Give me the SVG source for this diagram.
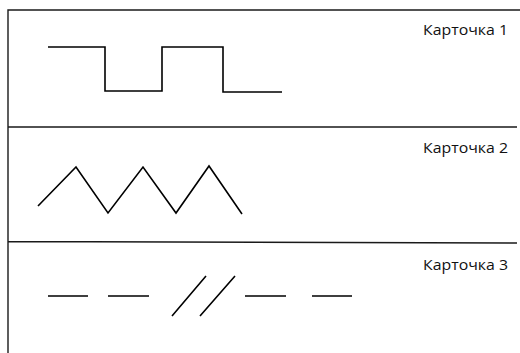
<svg xmlns="http://www.w3.org/2000/svg" width="520" height="353" viewBox="0 0 520 353">
<style>
.ln{fill:none;stroke:#000;stroke-width:1.6;stroke-linecap:butt;stroke-linejoin:miter}
.fr{fill:none;stroke:#1a1a1a;stroke-width:1.4}
.lbl{font-family:"Open Sans","Liberation Sans",sans-serif;font-size:14.5px;fill:#111}
</style>
<rect width="520" height="353" fill="#fff"/>
<g id="frame">
<path class="fr" d="M8,353 V10 H520 M8,127 H517 M8,241.5 L517,243"/>
</g>
<g id="card1">
<path class="ln" d="M48,47 H105 V91 H162 V47 H223 V92 H282"/>
<text class="lbl" x="423" y="35" textLength="85" lengthAdjust="spacingAndGlyphs">Карточка 1</text>
</g>
<g id="card2">
<path class="ln" d="M38,206 L76,167 L108,213 L143,167 L176,213 L209,166 L242,214"/>
<text class="lbl" x="423" y="153" textLength="85" lengthAdjust="spacingAndGlyphs">Карточка 2</text>
</g>
<g id="card3">
<path class="ln" d="M48,296 H88 M108,296 H149 M172,316 L206,276 M200,316 L235,276 M245,296 H286 M312,296 H352"/>
<text class="lbl" x="423" y="270" textLength="85" lengthAdjust="spacingAndGlyphs">Карточка 3</text>
</g>
</svg>
